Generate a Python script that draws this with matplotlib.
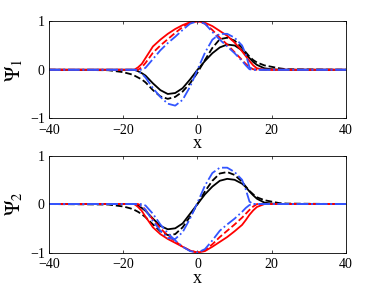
import matplotlib
matplotlib.use("Agg")
import matplotlib.pyplot as plt

plt.rcParams['font.family'] = ['Liberation Serif', 'DejaVu Serif']
plt.rcParams['mathtext.fontset'] = 'stix'

# sample positions (shared by every curve)
xs = [-40, -24, -22, -20, -18, -17, -16, -15, -14, -12, -10, -8, -6, -4, -2, 0,
      2, 4, 6, 8, 10, 12, 13, 14, 15, 16, 18, 20, 22, 24, 40]

# --- psi_1 ---
p1_black = [0, 0, 0, 0, 0, 0, -0.03, -0.07, -0.12, -0.28, -0.42, -0.5, -0.48, -0.38, -0.2, 0.0,
            0.18, 0.34, 0.46, 0.52, 0.5, 0.4, 0.32, 0.24, 0.16, 0.1, 0.03, 0.01, 0, 0, 0]
p1_black_d = [0, -0.01, -0.03, -0.05, -0.09, -0.12, -0.16, -0.2, -0.26, -0.42, -0.55, -0.6, -0.56, -0.45, -0.28, -0.06,
              0.2, 0.45, 0.63, 0.66, 0.6, 0.45, 0.36, 0.27, 0.2, 0.15, 0.09, 0.06, 0.03, 0.01, 0]
p1_blue_a = [0, 0, 0, 0, 0, 0, -0.03, -0.08, -0.16, -0.38, -0.56, -0.7, -0.74, -0.62, -0.35, 0.0,
             0.35, 0.62, 0.74, 0.74, 0.66, 0.5, 0.32, 0.05, 0, 0, 0, 0, 0, 0, 0]
p1_red = [0, 0, 0, 0, 0, 0, 0.05, 0.12, 0.24, 0.48, 0.62, 0.74, 0.84, 0.92, 0.98, 1.0,
          0.97, 0.9, 0.8, 0.7, 0.56, 0.38, 0.28, 0.18, 0.09, 0.03, 0, 0, 0, 0, 0]
p1_red_d = [0, 0, 0, 0, 0, 0, 0, 0.05, 0.14, 0.35, 0.5, 0.63, 0.76, 0.88, 0.97, 1.0,
            0.95, 0.82, 0.66, 0.52, 0.36, 0.2, 0.12, 0.05, 0.01, 0, 0, 0, 0, 0, 0]
p1_blue_s = [0, 0, 0, 0, 0, 0, 0, 0, 0.04, 0.22, 0.4, 0.55, 0.68, 0.82, 0.95, 1.0,
             0.95, 0.78, 0.62, 0.48, 0.34, 0.18, 0.09, 0.01, 0, 0, 0, 0, 0, 0, 0]

# --- psi_2 ---
p2_black = [0, 0, 0, 0, 0, 0, -0.03, -0.08, -0.14, -0.3, -0.45, -0.52, -0.5, -0.4, -0.2, 0.0,
            0.2, 0.36, 0.48, 0.52, 0.5, 0.42, 0.35, 0.26, 0.18, 0.11, 0.03, 0.01, 0, 0, 0]
p2_black_d = [0, -0.01, -0.03, -0.05, -0.09, -0.12, -0.16, -0.21, -0.27, -0.42, -0.56, -0.64, -0.62, -0.48, -0.26, 0.0,
              0.26, 0.48, 0.63, 0.66, 0.6, 0.46, 0.36, 0.27, 0.2, 0.14, 0.08, 0.05, 0.02, 0.01, 0]
p2_blue_a = [0, 0, 0, 0, 0, 0, -0.01, -0.05, -0.12, -0.35, -0.55, -0.7, -0.72, -0.58, -0.3, 0.03,
             0.38, 0.64, 0.75, 0.75, 0.66, 0.5, 0.3, 0.05, 0, 0, 0, 0, 0, 0, 0]
p2_red = [0, 0, 0, 0, 0, 0, -0.06, -0.14, -0.26, -0.48, -0.62, -0.72, -0.8, -0.88, -0.96, -1.0,
          -0.97, -0.88, -0.78, -0.68, -0.56, -0.43, -0.33, -0.22, -0.13, -0.06, 0, 0, 0, 0, 0]
p2_red_d = [0, 0, 0, 0, 0, 0, 0, -0.04, -0.12, -0.32, -0.5, -0.65, -0.77, -0.88, -0.96, -1.0,
            -0.95, -0.83, -0.68, -0.55, -0.42, -0.28, -0.2, -0.12, -0.05, 0, 0, 0, 0, 0, 0]
p2_blue_s = [0, 0, 0, 0, 0, 0, 0, 0, -0.03, -0.2, -0.42, -0.6, -0.75, -0.88, -0.97, -1.0,
             -0.93, -0.75, -0.55, -0.42, -0.3, -0.16, -0.08, -0.02, 0, 0, 0, 0, 0, 0, 0]

blue = '#3355ff'
lw = 1.3

fig = plt.figure(figsize=(3.82, 2.87), dpi=100)
ax1 = fig.add_axes([0.128, 0.588, 0.778, 0.338])
ax2 = fig.add_axes([0.128, 0.120, 0.778, 0.338])

panels = [
    (ax1, p1_black, p1_black_d, p1_red, p1_red_d, p1_blue_a, p1_blue_s, r'$\Psi_{\mathit{1}}$'),
    (ax2, p2_black, p2_black_d, p2_red, p2_red_d, p2_blue_a, p2_blue_s, r'$\Psi_{\mathit{2}}$'),
]

for ax, kb, kbd, r, rd, ba, bs, lab in panels:
    ax.plot(xs, kb, color='black', lw=lw)
    ax.plot(xs, kbd, color='black', lw=lw, ls='--')
    ax.plot(xs, r, color='red', lw=lw)
    ax.plot(xs, rd, color='red', lw=lw, ls='--')
    ax.plot(xs, ba, color=blue, lw=lw, ls='-.')
    ax.plot(xs, bs, color=blue, lw=lw, ls='-.')
    ax.set_xlim(-40, 40)
    ax.set_ylim(-1, 1)
    ax.set_xticks([-40, -20, 0, 20, 40])
    ax.set_yticks([-1, 0, 1])
    ax.tick_params(axis='x', pad=4)
    ax.tick_params(axis='y', pad=3)
    ax.tick_params(direction='in', top=True, right=True, labelsize=10, length=2.5, width=0.5)
    for s in ax.spines.values():
        s.set_linewidth(0.6)
    ax.set_xlabel('x', fontsize=13, labelpad=-1)
    ax.set_ylabel(lab, fontsize=15, labelpad=3)

fig.savefig('out.png', dpi=100)
